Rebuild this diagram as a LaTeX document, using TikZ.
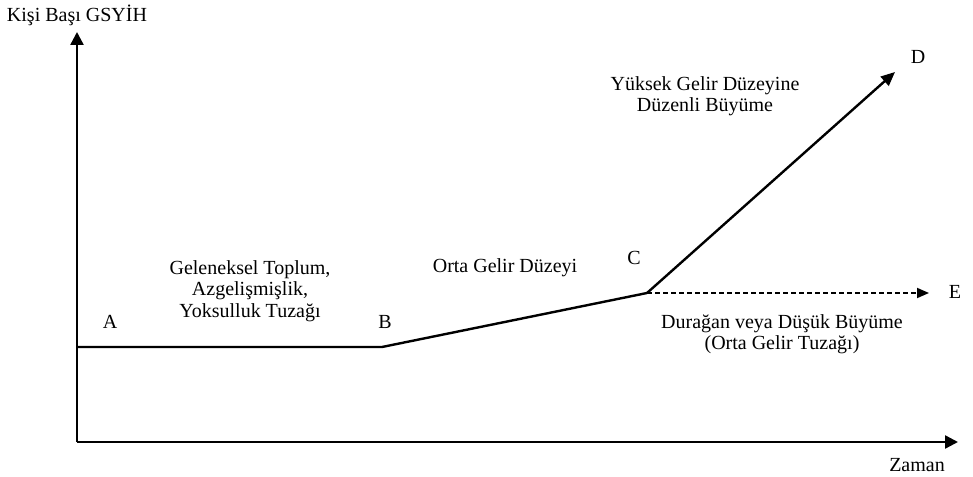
\documentclass[tikz,border=0pt]{standalone}
\usepackage{fontspec}
\setmainfont{Liberation Serif}
\usetikzlibrary{arrows.meta}
\begin{document}
\begin{tikzpicture}[x=1pt,y=-1pt,
  lbl/.style={font=\fontsize{20}{21.5}\selectfont, inner sep=0pt, align=center},
  axis/.style={line width=2.4pt, -{Triangle[length=13pt,width=13pt]}},
  growth/.style={line width=2.4pt},
  stag/.style={line width=1.8pt, dash pattern=on 5pt off 3pt, -{Triangle[length=12pt,width=10pt]}}]
\useasboundingbox (0,0) rectangle (973,476);
\coordinate (O) at (77,442);
\coordinate (Ytop) at (77,32);
\coordinate (Xend) at (958,442);
\coordinate (P0) at (77,347);
\coordinate (PB) at (382,347);
\coordinate (PC) at (647,293);
\coordinate (PD) at (895,72);
\coordinate (PE) at (929,293);
\draw[axis] (O) -- (Ytop);
\draw[axis] (O) -- (Xend);
\draw[growth] (P0) -- (PB) -- (PC);
\draw[growth, -{Triangle[length=14pt,width=12pt]}] (PC) -- (PD);
\draw[stag] (PC) -- (PE);
\node[lbl] (ylab) at (77,15) {Kişi Başı GSYİH};
\node[lbl] (xlab) at (917,465) {Zaman};
\node[lbl] (A) at (110,322) {A};
\node[lbl] (B) at (385,322) {B};
\node[lbl] (C) at (634,258) {C};
\node[lbl] (D) at (918,57) {D};
\node[lbl] (E) at (955,292) {E};
\node[lbl] (trad) at (250,291) {Geleneksel Toplum,\\Azgelişmişlik,\\Yoksulluk Tuzağı};
\node[lbl] (mid) at (505,268) {Orta Gelir Düzeyi};
\node[lbl] (high) at (705,96) {Yüksek Gelir Düzeyine\\Düzenli Büyüme};
\node[lbl] (trap) at (782,334) {Durağan veya Düşük Büyüme\\(Orta Gelir Tuzağı)};
\end{tikzpicture}
\end{document}
